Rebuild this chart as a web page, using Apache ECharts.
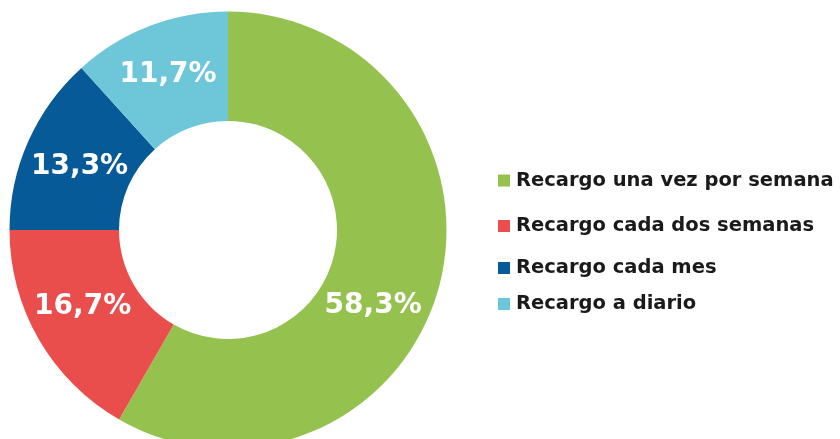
<!DOCTYPE html>
<html>
<head>
<meta charset="utf-8">
<script src="https://cdn.jsdelivr.net/npm/echarts@6/dist/echarts.min.js"></script>
<style>
  html, body { margin: 0; padding: 0; background: #fff; }
  #chart { width: 840px; height: 439px; }
</style>
</head>
<body>
<div id="chart"></div>
<script>
const categories = ['Recargo una vez por semana', 'Recargo cada dos semanas', 'Recargo cada mes', 'Recargo a diario']
const values = [58.3, 16.7, 13.3, 11.7]
const colors = ['#95c14f', '#e94d4c', '#065a97', '#6ec6d9']
// legend rows are not evenly spaced in the original
const legendCenters = [180.5, 226, 268, 304]
// hand placed labels in the original
const labelOffsets = [[-16, 33], [-1, -7], [4, 4], [0, 0]]

const chart = echarts.init(document.getElementById('chart'))

const fmt = (v) => v.toFixed(1).replace('.', ',') + '%'

const option = {
  animation: false,
  legend: categories.map((name, i) => ({
    data: [name],
    left: 498,
    top: legendCenters[i] - 10,
    padding: 0,
    icon: 'rect',
    itemWidth: 12,
    itemHeight: 12,
    itemGap: 0,
    selectedMode: false,
    textStyle: {
      fontFamily: 'DejaVu Sans',
      fontWeight: 'bold',
      fontSize: 19.5,
      lineHeight: 20,
      color: '#1a1a1a',
      padding: [0, 0, 0, 1]
    }
  })),
  series: [
    {
      type: 'pie',
      center: [228, 230],
      radius: [109, 218.5],
      startAngle: 90,
      clockwise: true,
      avoidLabelOverlap: false,
      label: {
        show: true,
        position: 'inside',
        color: '#fff',
        fontFamily: 'DejaVu Sans',
        fontWeight: 'bold',
        fontSize: 28,
        formatter: (p) => fmt(p.value)
      },
      labelLine: { show: false },
      emphasis: { disabled: true },
      data: categories.map((name, i) => ({
        name,
        value: values[i],
        itemStyle: { color: colors[i] },
        label: { offset: labelOffsets[i] }
      }))
    }
  ]
}

chart.setOption(option)
</script>
</body>
</html>
